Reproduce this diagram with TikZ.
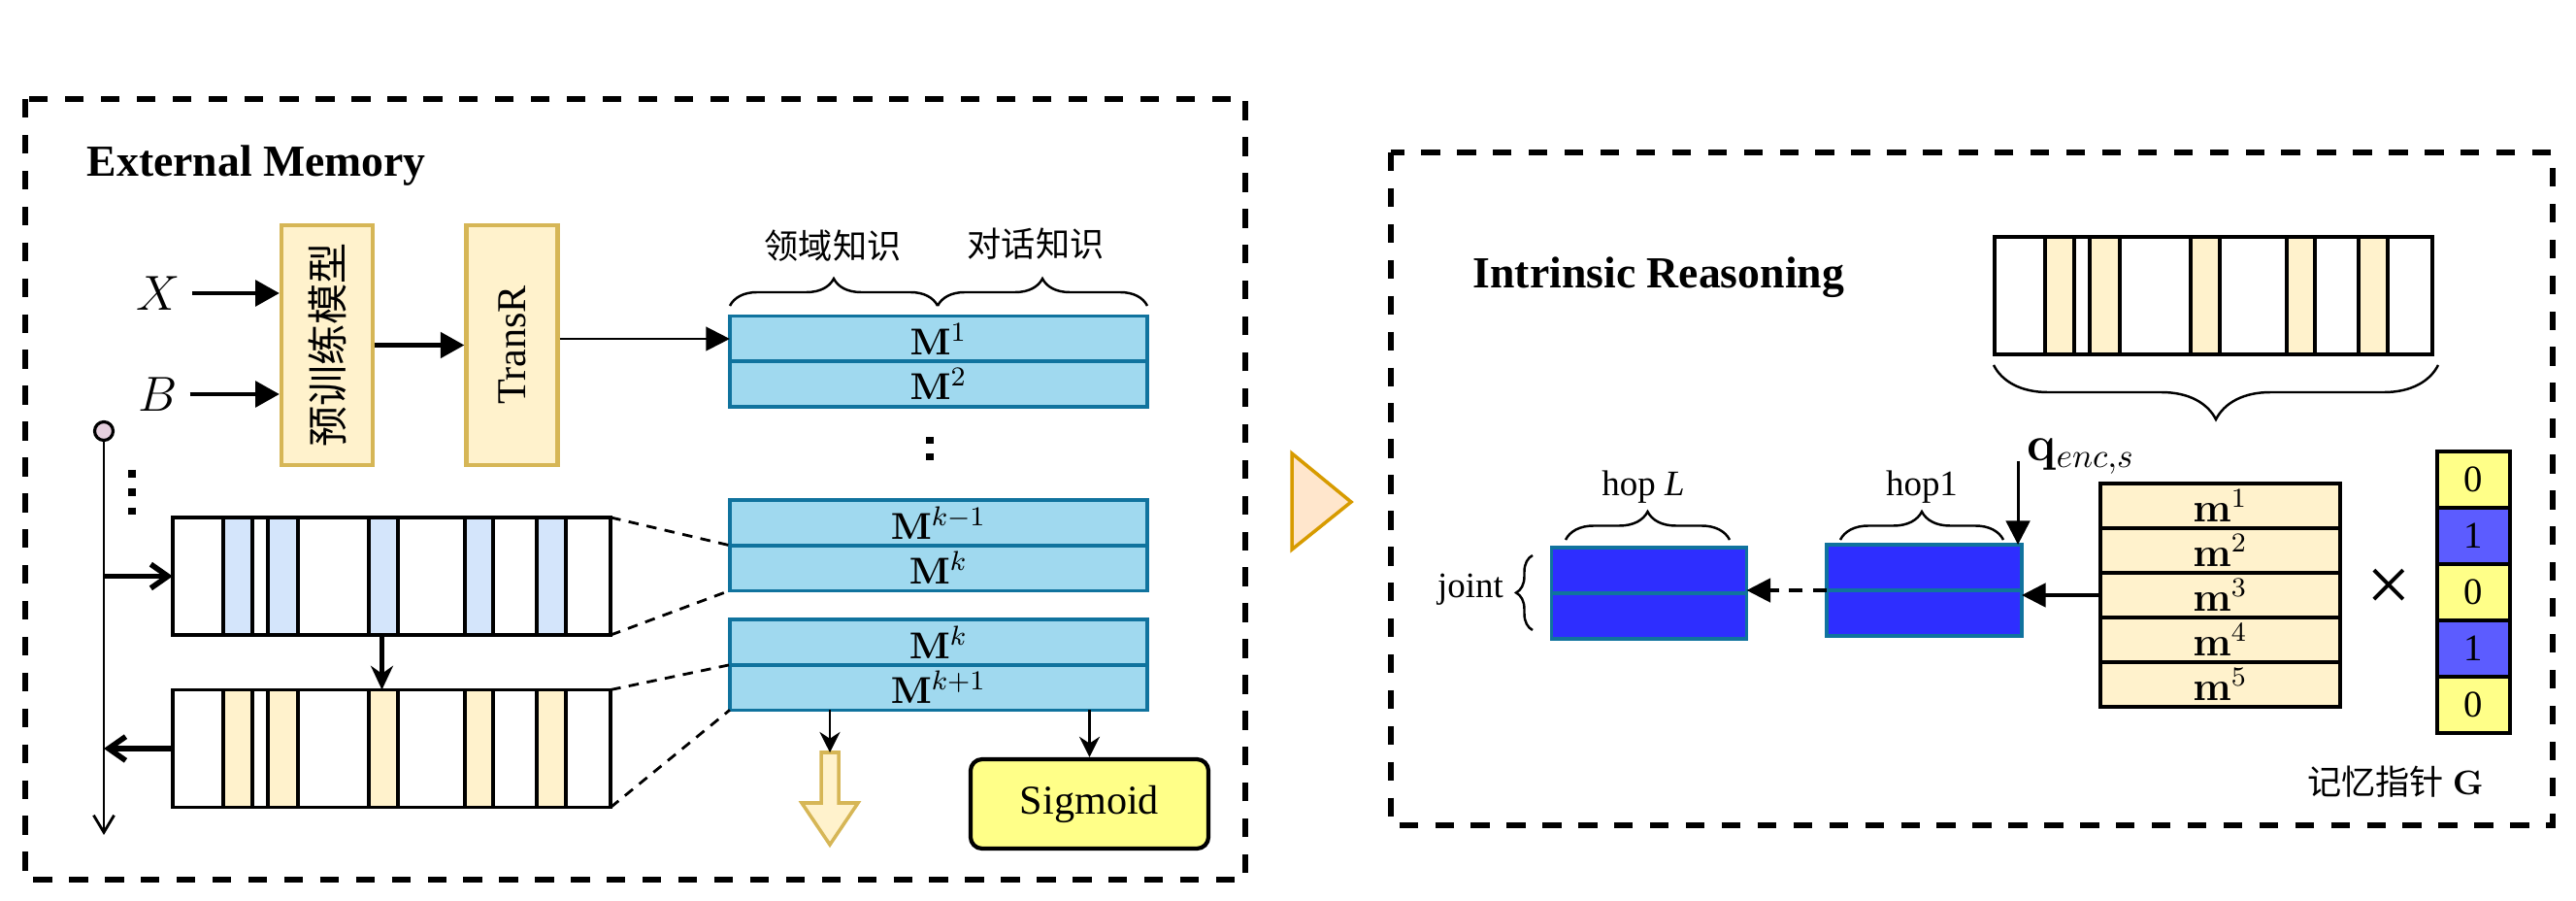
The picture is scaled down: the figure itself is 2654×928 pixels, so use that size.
\documentclass[tikz,border=0pt]{standalone}
\usepackage[no-math]{fontspec}
\setmainfont{Liberation Serif}
\newfontfamily\cjk{Noto Sans CJK SC}
\usetikzlibrary{positioning,calc,arrows.meta,decorations.pathreplacing}
\definecolor{ybord}{HTML}{D6B656}
\definecolor{yfill}{HTML}{FFF2CC}
\definecolor{mbord}{HTML}{10739E}
\definecolor{mfill}{HTML}{A0D9EF}
\definecolor{stripeB}{HTML}{D4E5FB}
\definecolor{dotfill}{HTML}{E6D0DE}
\definecolor{sigfill}{HTML}{FFFF88}
\definecolor{hopblue}{HTML}{2E2EFF}
\definecolor{gblue}{HTML}{5C5CFF}
\definecolor{trifill}{HTML}{FFE6CC}
\definecolor{tribord}{HTML}{D79B00}
\begin{document}
\begin{tikzpicture}[x=0.01cm,y=-0.01cm,
  frame/.style={line width=1.5pt,dash pattern=on 5.5pt off 5pt},
  ybox/.style={draw=ybord,fill=yfill,line width=1.2pt,minimum width=0.94cm,minimum height=2.47cm,inner sep=0pt,font=\fontsize{12}{12}\selectfont},
  mrow/.style={draw=mbord,fill=mfill,line width=1pt,minimum width=4.30cm,minimum height=0.465cm,inner sep=0pt,outer sep=0pt,font=\fontsize{11}{11}\selectfont},
  bar/.style={draw,line width=1.1pt,minimum width=4.51cm,minimum height=1.21cm,inner sep=0pt,outer sep=0pt},
  hoprow/.style={draw=mbord,fill=hopblue,line width=1pt,minimum width=2.01cm,minimum height=0.47cm,inner sep=0pt,outer sep=0pt},
  memrow/.style={draw,fill=yfill,line width=1pt,minimum width=2.47cm,minimum height=0.46cm,inner sep=0pt,outer sep=0pt,font=\fontsize{11.5}{11.5}\selectfont},
  gcell/.style={draw,line width=1.3pt,minimum width=0.75cm,minimum height=0.58cm,inner sep=0pt,outer sep=0pt,font=\fontsize{11}{11}\selectfont},
  lbl/.style={font=\fontsize{10.5}{10.5}\selectfont},
  bigarr/.style={line width=1.2pt,-{Triangle[length=7pt,width=7.5pt]}},
  tri/.style={line width=0.9pt,-{Triangle[length=7pt,width=7pt]}},
  thinarr/.style={line width=0.7pt,-{Stealth[length=6pt,width=6pt]}},
  bararr/.style={line width=1.6pt,-{Straight Barb[length=5pt,width=7pt]}},
  link/.style={line width=0.8pt,dash pattern=on 3pt off 2.4pt},
  brc/.style={decorate,decoration={brace,amplitude=#1},line width=0.7pt},
]
\useasboundingbox (0,0) rectangle (2654,928);

% left frame
\draw[frame] (26,102) rectangle (1283,906);
\node[anchor=base west,inner sep=0pt,font=\fontsize{13}{13}\selectfont\bfseries] (emtitle) at (89,182) {External Memory};

\node[font=\fontsize{15}{15}\selectfont] (X) at (163,302) {$X$};
\node[font=\fontsize{15}{15}\selectfont] (B) at (163,406) {$B$};
\node[ybox] (ptm) at (337,355.5) {\rotatebox{90}{\cjk 预训练模型}};
\node[ybox] (trR) at (527.5,355.5) {\rotatebox{90}{TransR}};
\draw[bigarr] (X.east) -- (X.east -| ptm.west);
\draw[bigarr] (B.east) -- (B.east -| ptm.west);
\draw[bigarr] (ptm) -- (trR);

% memory slots
\node[mrow] (M1) at (967,349) {$\mathbf{M}^1$};
\node[mrow,below=0pt of M1] (M2) {$\mathbf{M}^2$};
\node[mrow] (Mkm) at (967,538.5) {$\mathbf{M}^{k-1}$};
\node[mrow,below=0pt of Mkm] (Mka) {$\mathbf{M}^{k}$};
\node[mrow] (Mkb) at (967,661.5) {$\mathbf{M}^{k}$};
\node[mrow,below=0pt of Mkb] (Mkp) {$\mathbf{M}^{k+1}$};
\draw[tri,line width=0.7pt] (trR.east |- M1.west) -- (M1.west);
\draw[line width=2pt,dash pattern=on 2pt off 2.9pt] (958,450) -- (958,475);

\draw[brc=0.28cm] (752,315) -- (966,315);
\draw[brc=0.28cm] (966,315) -- (1182,315);
\node[font=\fontsize{10}{10}\selectfont\cjk] (dom) at (858,253) {领域知识};
\node[font=\fontsize{10}{10}\selectfont\cjk] (dia) at (1067,251) {对话知识};

% hop bars
\node[circle,draw,fill=dotfill,line width=0.9pt,minimum size=0.19cm,inner sep=0pt] (dot) at (107,444) {};
\coordinate (vend) at (107,860);
\draw[line width=0.8pt,-{Straight Barb[length=5pt,width=6pt]}] (dot.south) -- (vend);
\draw[line width=2.2pt,dash pattern=on 2.2pt off 3.3pt] (136,484) -- (136,530);

\node[bar] (bar1) at (403.5,593.5) {};
\node[bar] (bar2) at (403.5,771) {};
\node[bar] (bar3) at (2280.5,304.5) {};
\foreach \b/\c in {bar1/stripeB,bar2/yfill,bar3/yfill}
  \foreach \l/\r in {52/82,98/129,202/232,301/330,375/405}
    \draw[line width=1.1pt,fill=\c] ($(\b.north west)+(\l,0)$) rectangle ($(\b.south west)+(\r,0)$);

\draw[bararr] (dot |- bar1.west) -- (bar1.west);
\draw[bararr] (bar2.west) -- (bar2.west -| dot);
\draw[line width=1.6pt,-{Stealth[length=7pt,width=6.5pt]}] ([xshift=-0.1cm]bar1.south) -- ([xshift=-0.1cm]bar2.north);

\draw[link] (bar1.north east) -- (Mkm.south west);
\draw[link] (bar1.south east) -- (Mka.south west);
\draw[link] (bar2.north east) -- (Mkb.south west);
\draw[link] (bar2.south east) -- (Mkp.south west);

% outputs
\node[draw,fill=sigfill,line width=1.2pt,rounded corners=0.12cm,minimum width=2.45cm,minimum height=0.92cm,font=\fontsize{12}{12}\selectfont] (sig) at (1122.5,828) {Sigmoid};
\coordinate (out) at (855,775);
\draw[draw=ybord,fill=yfill,line width=1pt] (846,775) -- (864,775) -- (864,827) -- (884,827) -- (855,870) -- (826,827) -- (846,827) -- cycle;
\draw[thinarr] (Mkp.south -| out) -- (out);
\draw[thinarr] (Mkp.south -| sig.north) -- (sig.north);

% step triangle
\draw[draw=tribord,fill=trifill,line width=1pt] (1331,467) -- (1392,517) -- (1331,566) -- cycle;

% right frame
\draw[frame] (1433,157) rectangle (2630,850);
\node[anchor=base west,inner sep=0pt,font=\fontsize{13}{13}\selectfont\bfseries] (irtitle) at (1517,297) {Intrinsic Reasoning};
\draw[brc=0.56cm] (2512,376) -- (2054,376);

\node[hoprow] (hopLa) at (1699,587.5) {};
\node[hoprow,below=0pt of hopLa] (hopLb) {};
\node[hoprow] (hop1a) at (1982.5,584.5) {};
\node[hoprow,below=0pt of hop1a] (hop1b) {};
\draw[brc=0.29cm] (1613,556) -- (1782,556);
\draw[brc=0.29cm] (1896,556) -- (2064,556);
\node[lbl] (hopL) at (1693,502) {hop \textit{L}};
\node[lbl] (hopone) at (1980,502) {hop1};
\node[lbl] (joint) at (1515,607) {joint};
\draw[brc=0.17cm] (1579,649) -- (1579,572);

\node[font=\fontsize{14}{14}\selectfont] (qenc) at (2144,470) {$\mathbf{q}_{enc,s}$};
\draw[tri] ($(hop1a.north east)+(-4,-86)$) -- ($(hop1a.north east)+(-4,0)$);

\foreach \i in {1,...,5}
  \node[memrow] (m\i) at (2287.5,{521+(\i-1)*46}) {$\mathbf{m}^{\i}$};
\draw[tri] (m3.west) -- (m3.west -| hop1a.east);
\draw[tri,dash pattern=on 4pt off 3pt] (hop1a.south west) -- (hop1a.south west -| hopLa.east);

\node[font=\fontsize{23}{23}\selectfont] (cross) at (2461,608) {×};
\foreach \i/\v/\c in {1/0/sigfill,2/1/gblue,3/0/sigfill,4/1/gblue,5/0/sigfill}
  \node[gcell,fill=\c] (g\i) at (2548.5,{494+(\i-1)*58}) {\v};
\node[font=\fontsize{10}{10}\selectfont] (gname) at (2468,805) {{\cjk 记忆指针} $\mathbf{G}$};
\end{tikzpicture}
\end{document}
